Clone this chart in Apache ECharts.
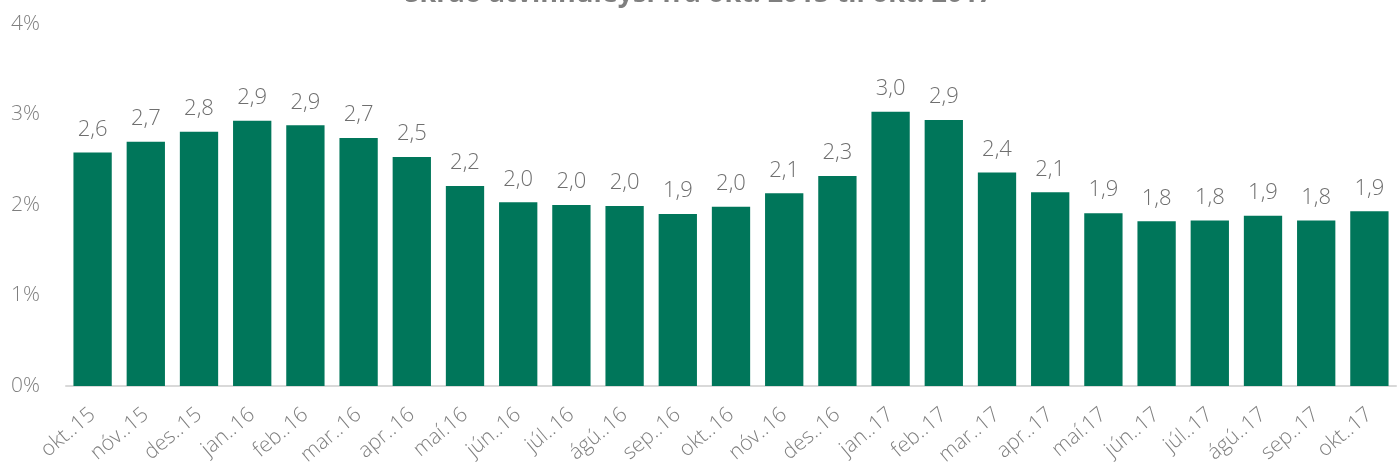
<!DOCTYPE html>
<html><head><meta charset="utf-8">
<script src="https://cdn.jsdelivr.net/npm/echarts@6/dist/echarts.min.js"></script>
<style>html,body{margin:0;padding:0;background:#fff}#c{width:1398px;height:466px}</style>
</head><body><div id="c"></div>
<script>
var titleText = 'Skráð atvinnuleysi frá okt. 2015 til okt. 2017';
var categories = ['okt..15','nóv..15','des..15','jan..16','feb..16','mar..16','apr..16','maí.16','jún..16','júl..16','ágú..16','sep..16','okt..16','nóv..16','des..16','jan..17','feb..17','mar..17','apr..17','maí.17','jún..17','júl..17','ágú..17','sep..17','okt..17'];
var values = [2.58,2.70,2.81,2.93,2.88,2.74,2.53,2.21,2.03,2.00,1.99,1.90,1.98,2.13,2.32,3.03,2.94,2.36,2.14,1.91,1.82,1.83,1.88,1.83,1.93];
var yTicks = [0,1,2,3,4];
var chart = echarts.init(document.getElementById('c'));
var font = '"Open Sans", "Noto Sans", sans-serif';
chart.setOption({
  animation:false,
  title:{text:titleText,left:'center',top:-24,textStyle:{fontFamily:font,fontSize:27,fontWeight:'bold',color:'#7f7f7f'}},
  grid:{left:66,right:2,top:24,bottom:80,containLabel:false,outerBoundsMode:'none'},
  xAxis:{type:'category',data:categories,
    axisLine:{lineStyle:{color:'#d9d9d9',width:2}},axisTick:{show:false},
    axisLabel:{rotate:40,interval:0,fontFamily:font,fontSize:21,fontWeight:300,color:'#7f7f7f',margin:26}},
  yAxis:{type:'value',min:0,max:4,interval:1,
    splitLine:{show:false},axisLine:{show:false},axisTick:{show:false},
    axisLabel:{fontFamily:font,fontSize:21,fontWeight:300,color:'#7f7f7f',margin:26,formatter:function(v){return v+'%';}}},
  series:[{type:'bar',data:values,barCategoryGap:'28%',
    itemStyle:{color:'#00765A'},
    label:{show:true,position:'top',distance:12,fontFamily:font,fontSize:22,fontWeight:300,color:'#6f6f6f',
      formatter:function(p){return p.value.toFixed(1).replace('.',',');}}}]
});
</script></body></html>
